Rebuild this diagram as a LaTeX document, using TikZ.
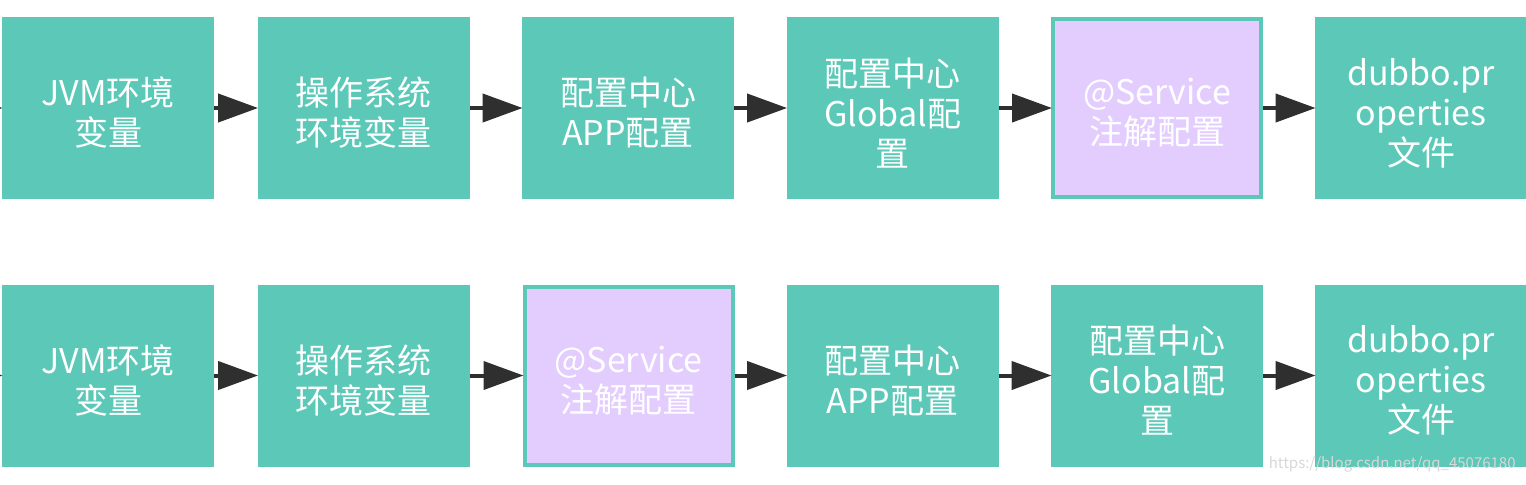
\documentclass[tikz,border=0pt]{standalone}
\usepackage{fontspec}
\setmainfont{Noto Sans CJK SC}
\usetikzlibrary{arrows.meta,calc}
\definecolor{teal1}{HTML}{5BC8B8}
\definecolor{purp1}{HTML}{E3CCFE}
\definecolor{dark1}{HTML}{2F2F2F}
\definecolor{wm}{HTML}{D8D8D8}
\tikzset{
  box/.style={fill=teal1, draw=none, minimum width=106pt, minimum height=91pt, inner sep=0pt},
  pbox/.style={box, fill=purp1, draw=teal1, line width=2pt, minimum width=104pt, minimum height=89pt},
  lbl/.style={text=white, align=center, inner sep=0pt, font=\fontsize{17pt}{20pt}\selectfont},
  arr/.style={draw=dark1, line width=2pt, -{Triangle[length=20pt,width=14pt]}, shorten >=-0.5pt}
}
\begin{document}
\begin{tikzpicture}[x=0.5pt,y=-0.5pt]
\useasboundingbox (0,0) rectangle (1526,484);
\fill[white] (0,0) rectangle (1526,484);
\begin{scope}
\clip (0,0) rectangle (1526,484);
% top row
\node[box] (a1) at (108,108) {};
\node[box] (a2) at (363.5,108) {};
\node[box] (a3) at (628,108) {};
\node[box] (a4) at (892.5,108) {};
\node[pbox] (a5) at (1157,108) {};
\node[box] (a6) at (1421,108) {};
% bottom row
\node[box] (b1) at (108,375.5) {};
\node[box] (b2) at (363.5,375.5) {};
\node[pbox] (b3) at (628.5,375.5) {};
\node[box] (b4) at (892.5,375.5) {};
\node[box] (b5) at (1157,375.5) {};
\node[box] (b6) at (1421,375.5) {};
% labels
\node[lbl] (ta1) at ($(a1.center)+(0,5)$) {JVM环境\\变量};
\node[lbl] (ta2) at ($(a2.center)+(0,5)$) {操作系统\\环境变量};
\node[lbl] (ta3) at ($(a3.center)+(0,5)$) {配置中心\\APP配置};
\node[lbl] (ta4) at ($(a4.center)+(0,5)$) {配置中心\\Global配\\置};
\node[lbl] (ta5) at ($(a5.center)+(0,5)$) {@Service\\注解配置};
\node[lbl] (ta6) at ($(a6.center)+(0,5)$) {dubbo.pr\\operties\\文件};
\node[lbl] (tb1) at ($(b1.center)+(0,5)$) {JVM环境\\变量};
\node[lbl] (tb2) at ($(b2.center)+(0,5)$) {操作系统\\环境变量};
\node[lbl] (tb3) at ($(b3.center)+(0,5)$) {@Service\\注解配置};
\node[lbl] (tb4) at ($(b4.center)+(0,5)$) {配置中心\\APP配置};
\node[lbl] (tb5) at ($(b5.center)+(0,5)$) {配置中心\\Global配\\置};
\node[lbl] (tb6) at ($(b6.center)+(0,5)$) {dubbo.pr\\operties\\文件};
% connectors
\coordinate (sa) at (-60,108);
\coordinate (sb) at (-60,375.5);
\draw[arr] (sa) -- (a1.west);
\draw[arr] (sb) -- (b1.west);
\draw[arr] (a1) -- (a2);
\draw[arr] (a2) -- (a3);
\draw[arr] (a3) -- (a4);
\draw[arr] (a4) -- (a5);
\draw[arr] (a5) -- (a6);
\draw[arr] (b1) -- (b2);
\draw[arr] (b2) -- (b3);
\draw[arr] (b3) -- (b4);
\draw[arr] (b4) -- (b5);
\draw[arr] (b5) -- (b6);
\node[text=wm, font=\fontsize{7.5pt}{9pt}\selectfont, anchor=east, inner sep=0pt] (wmk) at (1516,464) {https://blog.csdn.net/qq\_45076180};
\end{scope}
\end{tikzpicture}
\end{document}
